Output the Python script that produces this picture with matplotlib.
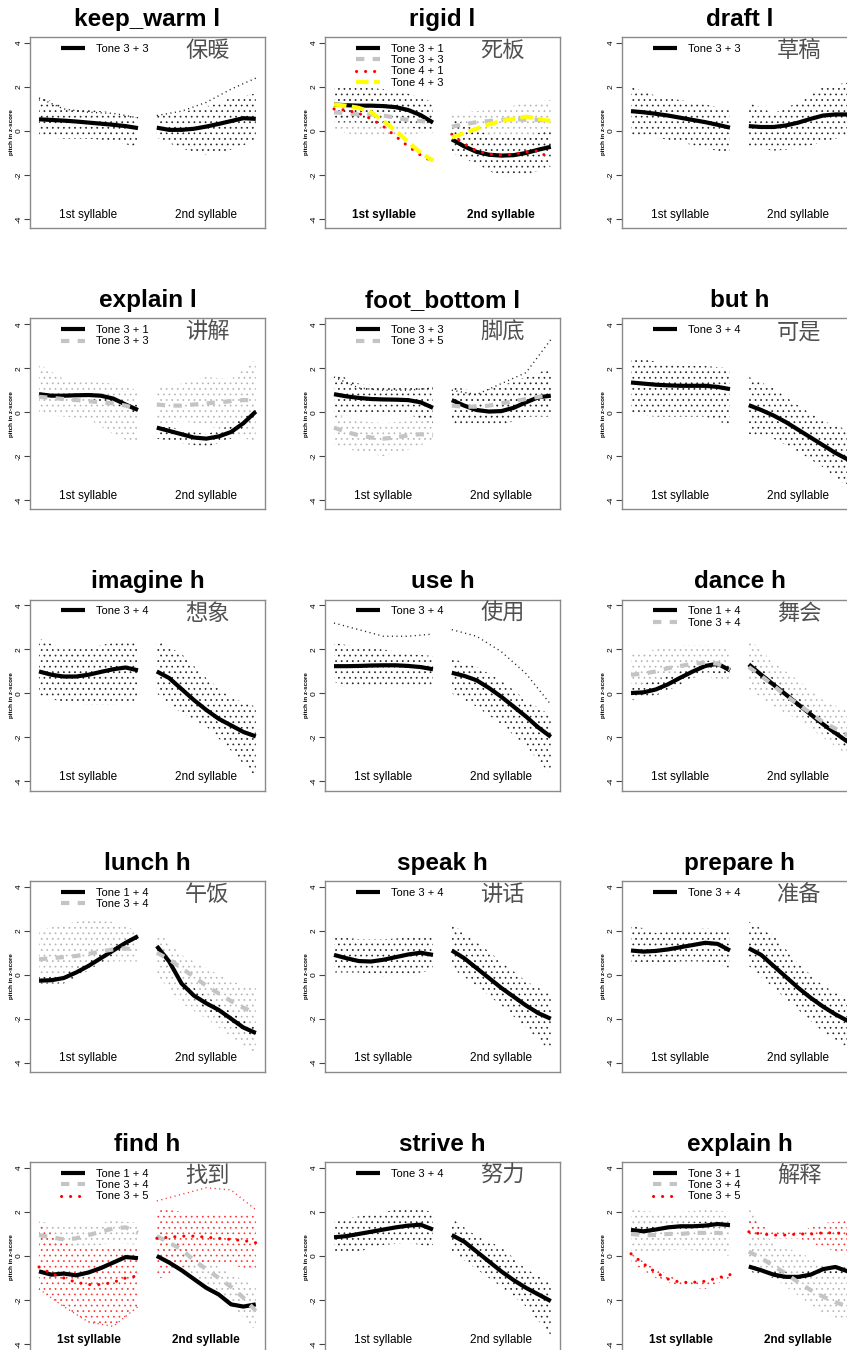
import matplotlib
matplotlib.use('Agg')
import matplotlib.pyplot as plt
import numpy as np

plt.rcParams['font.family'] = ['Liberation Sans', 'DejaVu Sans']
plt.rcParams['hatch.linewidth'] = 0.5

# time grid of each syllable: means read at 9 points, spread (hi/lo) at 5 points
T9 = np.linspace(0, 1, 9)
T5 = np.linspace(0, 1, 5)
S2 = 1.19  # start of 2nd syllable on the x axis

# ---- data (z-scores); first half = 1st syllable, second half = 2nd syllable
# keep_warm l
kw33_mean = [0.53, 0.50, 0.47, 0.43, 0.38, 0.33, 0.28, 0.22, 0.13,
             0.15, 0.05, 0.05, 0.10, 0.20, 0.32, 0.45, 0.58, 0.55]
kw33_hi = [1.6, 1.1, 0.95, 0.85, 0.6, 0.75, 0.85, 1.1, 1.5, 1.7]
kw33_lo = [-0.25, -0.35, -0.35, -0.45, -0.75, -0.3, -0.8, -1.1, -0.85, -0.45]
kw33_extra = [1.5, 1.0, 0.85, 0.8, 0.6, 0.7, 0.9, 1.3, 1.9, 2.4]

# rigid l
rg31_mean = [1.20, 1.17, 1.15, 1.15, 1.13, 1.08, 0.95, 0.72, 0.38,
             -0.38, -0.70, -0.95, -1.08, -1.12, -1.10, -1.00, -0.85, -0.72]
rg31_hi = [2.0, 2.0, 1.9, 1.7, 1.3, 0.6, 0.0, -0.3, -0.2, 0.0]
rg31_lo = [0.4, 0.4, 0.3, 0.2, -0.1, -1.0, -1.5, -2.1, -2.0, -1.6]
rg33_mean = [0.85, 0.80, 0.75, 0.75, 0.70, 0.60, 0.50, 0.45, 0.40,
             0.20, 0.30, 0.40, 0.45, 0.50, 0.55, 0.50, 0.50, 0.45]
rg33_hi = [1.6, 1.5, 1.4, 1.3, 1.0, 0.8, 0.9, 1.0, 1.3, 1.4]
rg33_lo = [0.0, -0.2, -0.3, -0.2, 0.0, -0.3, -0.4, -0.4, -0.5, -0.5]
rg41_mean = [1.00, 0.95, 0.80, 0.55, 0.20, -0.25, -0.70, -1.10, -1.40,
             -0.15, -0.60, -0.90, -1.05, -1.10, -1.05, -0.95, -0.90, -1.30]
rg43_mean = [1.20, 1.15, 1.05, 0.85, 0.45, 0.00, -0.50, -1.00, -1.35,
             -0.30, -0.10, 0.10, 0.30, 0.45, 0.55, 0.65, 0.55, 0.45]

# draft l
df33_mean = [0.90, 0.85, 0.78, 0.70, 0.60, 0.50, 0.40, 0.28, 0.15,
             0.22, 0.18, 0.18, 0.25, 0.38, 0.55, 0.70, 0.75, 0.75]
df33_hi = [2.0, 1.6, 1.4, 1.2, 1.0, 1.3, 0.8, 1.3, 2.0, 2.2]
df33_lo = [-0.2, -0.3, -0.5, -0.8, -1.0, -0.7, -0.9, -0.8, -0.5, -0.2]

# explain l
el31_mean = [0.82, 0.75, 0.75, 0.77, 0.78, 0.75, 0.62, 0.35, 0.10,
             -0.70, -0.85, -1.00, -1.15, -1.20, -1.10, -0.90, -0.50, 0.03]
el31_hi = [1.0, 0.9, 0.9, 0.7, 0.3, -0.5, -0.8, -1.0, -0.6, 0.1]
el31_lo = [0.6, 0.6, 0.6, 0.4, -0.1, -1.2, -1.4, -1.6, -1.2, -0.2]
el33_mean = [0.70, 0.65, 0.60, 0.55, 0.50, 0.45, 0.40, 0.30, 0.15,
             0.35, 0.30, 0.30, 0.35, 0.40, 0.45, 0.50, 0.55, 0.55]
el33_hi = [2.2, 1.5, 1.4, 1.3, 1.0, 1.2, 1.3, 1.6, 1.5, 2.4]
el33_lo = [-0.1, -0.2, -0.3, -1.0, -1.5, -0.6, -0.4, -0.6, -0.9, -1.4]

# foot_bottom l
fb33_mean = [0.82, 0.72, 0.65, 0.60, 0.58, 0.57, 0.55, 0.45, 0.20,
             0.55, 0.30, 0.10, 0.03, 0.05, 0.20, 0.45, 0.68, 0.75]
fb33_hi = [1.8, 1.3, 1.2, 1.1, 1.2, 1.2, 0.9, 1.2, 1.6, 2.0]
fb33_lo = [-0.2, -0.1, 0.0, -0.1, -0.5, -0.6, -0.5, -0.6, -0.2, -0.2]
fb33_extra = [1.6, 1.1, 1.0, 1.0, 1.1, 1.0, 0.8, 1.3, 1.8, 3.3]
fb35_mean = [-0.70, -0.90, -1.05, -1.15, -1.20, -1.15, -1.05, -1.00, -1.05,
             0.30, 0.25, 0.25, 0.30, 0.40, 0.50, 0.60, 0.70, 0.75]
fb35_hi = [-0.1, -0.4, -0.5, -0.4, 0.0, 0.8, 0.8, 1.0, 1.3, 1.6]
fb35_lo = [-1.5, -1.8, -2.0, -1.7, -1.3, -0.3, -0.4, -0.3, 0.0, 0.2]

# but h
bt34_mean = [1.35, 1.30, 1.25, 1.22, 1.20, 1.20, 1.20, 1.15, 1.05,
             0.32, 0.10, -0.15, -0.45, -0.80, -1.15, -1.50, -1.85, -2.15]
bt34_hi = [2.5, 2.3, 2.1, 2.1, 2.0, 1.6, 1.1, 0.3, -0.4, -0.8]
bt34_lo = [-0.1, -0.2, -0.2, -0.2, -0.6, -1.0, -1.2, -1.8, -2.5, -3.4]

# imagine h
im34_mean = [1.00, 0.85, 0.77, 0.77, 0.85, 0.98, 1.10, 1.18, 1.05,
             1.00, 0.70, 0.20, -0.30, -0.75, -1.15, -1.45, -1.75, -1.95]
im34_hi = [2.5, 2.0, 2.1, 2.3, 2.4, 2.4, 1.8, 0.7, -0.2, -0.6]
im34_lo = [-0.1, -0.4, -0.5, -0.5, -0.3, 0.0, -0.9, -1.5, -2.6, -3.8]

# use h
us34_mean = [1.24, 1.24, 1.25, 1.27, 1.28, 1.28, 1.25, 1.20, 1.10,
             0.94, 0.80, 0.60, 0.25, -0.15, -0.60, -1.05, -1.55, -1.97]
us34_hi = [2.3, 2.1, 2.0, 1.8, 1.7, 1.6, 1.2, 0.6, -0.3, -1.0]
us34_lo = [0.5, 0.3, 0.3, 0.3, 0.4, 0.0, -0.6, -1.4, -2.4, -3.7]
us34_extra = [3.2, 2.9, 2.6, 2.6, 2.7, 2.9, 2.6, 1.9, 0.9, -0.5]

# dance h
dn14_mean = [0.02, 0.05, 0.18, 0.42, 0.72, 1.00, 1.25, 1.35, 1.05,
             1.32, 0.85, 0.40, -0.05, -0.50, -0.95, -1.40, -1.80, -2.20]
dn14_hi = [0.3, 0.6, 1.0, 1.5, 1.3, 1.6, 0.7, -0.2, -1.1, -1.9]
dn14_lo = [-0.3, -0.1, 0.4, 1.0, 0.8, 1.0, 0.1, -0.8, -1.7, -2.5]
dn34_mean = [0.85, 0.90, 1.00, 1.15, 1.25, 1.35, 1.40, 1.35, 1.10,
             1.20, 0.80, 0.35, -0.10, -0.50, -0.90, -1.30, -1.60, -1.90]
dn34_hi = [1.8, 2.0, 2.2, 2.2, 2.0, 2.5, 1.4, 0.6, -0.3, -0.8]
dn34_lo = [0.3, 0.4, 0.6, 0.8, 0.5, 0.2, -0.6, -1.2, -2.0, -2.8]

# lunch h
ln14_mean = [-0.27, -0.25, -0.15, 0.10, 0.40, 0.75, 1.10, 1.45, 1.75,
             1.30, 0.60, -0.40, -0.95, -1.30, -1.60, -2.00, -2.40, -2.65]
ln14_hi = [-0.1, 0.0, 0.6, 1.3, 1.9, 1.5, -0.2, -1.0, -1.7, -2.4]
ln14_lo = [-0.4, -0.4, 0.2, 0.9, 1.6, 1.1, -0.6, -1.6, -2.3, -2.9]
ln34_mean = [0.70, 0.75, 0.80, 0.85, 0.95, 1.05, 1.15, 1.20, 1.10,
             1.00, 0.70, 0.30, -0.10, -0.50, -0.85, -1.20, -1.50, -1.75]
ln34_hi = [2.0, 2.3, 2.5, 2.4, 2.0, 2.0, 0.9, 0.3, -0.3, -0.6]
ln34_lo = [-0.1, 0.0, 0.3, 0.6, 0.6, 0.0, -1.3, -2.0, -2.8, -3.6]

# speak h
sp34_mean = [0.90, 0.75, 0.62, 0.60, 0.68, 0.80, 0.92, 1.00, 0.90,
             1.10, 0.75, 0.30, -0.15, -0.60, -1.00, -1.40, -1.75, -2.00]
sp34_hi = [1.8, 1.6, 1.6, 1.7, 1.7, 2.3, 1.5, 0.6, -0.3, -0.9]
sp34_lo = [0.1, 0.1, -0.1, 0.0, 0.2, 0.3, -0.5, -1.4, -2.4, -3.5]

# prepare h
pr34_mean = [1.10, 1.05, 1.08, 1.15, 1.25, 1.35, 1.45, 1.40, 1.10,
             1.20, 0.90, 0.40, -0.10, -0.60, -1.05, -1.45, -1.80, -2.10]
pr34_hi = [2.3, 1.9, 2.0, 2.1, 2.0, 2.4, 1.8, 0.5, -0.5, -1.1]
pr34_lo = [0.4, 0.5, 0.6, 0.6, 0.3, 0.4, -0.6, -1.6, -2.6, -3.3]

# find h
fd14_mean = [-0.70, -0.85, -0.80, -0.88, -0.75, -0.55, -0.30, -0.05, -0.10,
             0.00, -0.30, -0.65, -1.05, -1.45, -1.75, -2.20, -2.30, -2.20]
fd34_mean = [0.95, 0.85, 0.75, 0.80, 0.95, 1.10, 1.25, 1.30, 1.05,
             0.90, 0.60, 0.30, -0.20, -0.60, -1.00, -1.40, -1.90, -2.50]
fd34_hi = [1.6, 1.3, 1.4, 1.6, 1.5, 1.3, 0.5, -0.2, -0.8, -1.4]
fd34_lo = [0.3, 0.3, 0.4, 0.6, 0.5, 0.3, -0.6, -1.3, -2.2, -3.4]
fd35_mean = [-0.50, -0.80, -1.00, -1.20, -1.30, -1.30, -1.20, -1.00, -0.90,
             0.80, 0.85, 0.90, 0.90, 0.85, 0.80, 0.75, 0.70, 0.60]
fd35_hi = [1.5, 0.6, 0.3, 0.4, 0.4, 2.2, 2.0, 2.0, 2.0, 1.8]
fd35_lo = [-1.5, -2.3, -3.0, -3.2, -2.3, -1.1, -0.5, -0.4, -0.4, -0.7]
fd35_extra = [-1.5, -2.3, -3.0, -3.2, -2.3, 2.5, 2.8, 3.1, 3.0, 2.1]

# strive h
st34_mean = [0.85, 0.90, 1.00, 1.10, 1.20, 1.30, 1.38, 1.42, 1.20,
             0.95, 0.65, 0.20, -0.25, -0.70, -1.10, -1.45, -1.75, -2.05]
st34_hi = [1.6, 1.8, 2.0, 2.2, 2.0, 1.7, 0.9, 0.4, -0.6, -1.2]
st34_lo = [0.1, 0.2, 0.5, 0.6, 0.4, 0.2, -0.6, -1.4, -2.3, -3.6]

# explain h
eh31_mean = [1.18, 1.12, 1.20, 1.30, 1.35, 1.35, 1.38, 1.45, 1.40,
             -0.48, -0.65, -0.85, -0.95, -0.95, -0.85, -0.60, -0.50, -0.70]
eh31_hi = [1.5, 1.45, 1.5, 1.55, 1.5, -0.4, -0.7, -0.8, -0.5, -0.5]
eh31_lo = [1.0, 1.1, 1.2, 1.3, 1.3, -0.7, -1.0, -1.1, -0.8, -0.9]
eh34_mean = [1.00, 0.95, 0.95, 1.00, 1.00, 1.05, 1.05, 1.05, 1.00,
             0.20, -0.10, -0.45, -0.80, -1.20, -1.55, -1.85, -2.10, -2.30]
eh34_hi = [2.1, 2.0, 2.0, 2.1, 2.0, 2.2, 0.5, 0.2, -0.4, -0.6]
eh34_lo = [0.0, 0.2, 0.3, 0.2, 0.0, -0.2, -1.0, -1.8, -2.6, -3.0]
eh35_mean = [0.10, -0.35, -0.75, -1.05, -1.20, -1.20, -1.15, -1.00, -0.85,
             1.10, 1.00, 0.95, 0.95, 1.00, 1.00, 1.05, 1.05, 1.00]
eh35_hi = [0.1, -0.6, -1.1, -1.2, -0.8, 1.8, 1.1, 1.1, 1.5, 1.6]
eh35_lo = [-0.3, -1.0, -1.4, -1.5, -1.0, 0.9, 0.8, 0.8, 0.4, 0.0]

# ---- styles per group colour
STY = {
    'black':  dict(line='black', ls='-', lw=3.0, dots='#222222'),
    'grey':   dict(line='#c4c4c4', ls=(0, (2, 2)), lw=3.0, dots='#b4b4b4'),
    'red':    dict(line='red', ls=(0, (0.05, 2.9)), lw=2.2, dots='#ff3030'),
    'yellow': dict(line='#ffff00', ls=(0, (3, 1.3)), lw=3.0, dots='#ffff00'),
}

# (title, characters, bold syllable labels, groups)
# group = (legend label, style, mean, hi, lo, extra trace)
panels = [
    ('keep_warm l', '保暖', False, [('Tone 3 + 3', 'black', kw33_mean, kw33_hi, kw33_lo, kw33_extra)]),
    ('rigid l', '死板', True, [('Tone 3 + 1', 'black', rg31_mean, rg31_hi, rg31_lo, None),
                             ('Tone 3 + 3', 'grey', rg33_mean, rg33_hi, rg33_lo, None),
                             ('Tone 4 + 1', 'red', rg41_mean, None, None, None),
                             ('Tone 4 + 3', 'yellow', rg43_mean, None, None, None)]),
    ('draft l', '草稿', False, [('Tone 3 + 3', 'black', df33_mean, df33_hi, df33_lo, None)]),
    ('explain l', '讲解', False, [('Tone 3 + 1', 'black', el31_mean, el31_hi, el31_lo, None),
                               ('Tone 3 + 3', 'grey', el33_mean, el33_hi, el33_lo, None)]),
    ('foot_bottom l', '脚底', False, [('Tone 3 + 3', 'black', fb33_mean, fb33_hi, fb33_lo, fb33_extra),
                                   ('Tone 3 + 5', 'grey', fb35_mean, fb35_hi, fb35_lo, None)]),
    ('but h', '可是', False, [('Tone 3 + 4', 'black', bt34_mean, bt34_hi, bt34_lo, None)]),
    ('imagine h', '想象', False, [('Tone 3 + 4', 'black', im34_mean, im34_hi, im34_lo, None)]),
    ('use h', '使用', False, [('Tone 3 + 4', 'black', us34_mean, us34_hi, us34_lo, us34_extra)]),
    ('dance h', '舞会', False, [('Tone 1 + 4', 'black', dn14_mean, dn14_hi, dn14_lo, None),
                             ('Tone 3 + 4', 'grey', dn34_mean, dn34_hi, dn34_lo, None)]),
    ('lunch h', '午饭', False, [('Tone 1 + 4', 'black', ln14_mean, ln14_hi, ln14_lo, None),
                             ('Tone 3 + 4', 'grey', ln34_mean, ln34_hi, ln34_lo, None)]),
    ('speak h', '讲话', False, [('Tone 3 + 4', 'black', sp34_mean, sp34_hi, sp34_lo, None)]),
    ('prepare h', '准备', False, [('Tone 3 + 4', 'black', pr34_mean, pr34_hi, pr34_lo, None)]),
    ('find h', '找到', True, [('Tone 1 + 4', 'black', fd14_mean, None, None, None),
                            ('Tone 3 + 4', 'grey', fd34_mean, fd34_hi, fd34_lo, None),
                            ('Tone 3 + 5', 'red', fd35_mean, fd35_hi, fd35_lo, fd35_extra)]),
    ('strive h', '努力', False, [('Tone 3 + 4', 'black', st34_mean, st34_hi, st34_lo, None)]),
    ('explain h', '解释', True, [('Tone 3 + 1', 'black', eh31_mean, eh31_hi, eh31_lo, None),
                               ('Tone 3 + 4', 'grey', eh34_mean, eh34_hi, eh34_lo, None),
                               ('Tone 3 + 5', 'red', eh35_mean, eh35_hi, eh35_lo, None)]),
]

W, H = 847, 1350
fig = plt.figure(figsize=(W / 100, H / 100), dpi=100)
col_left = [30, 325, 622]
box_w, box_h = 235, 191


def draw_panel(ax, title, chars, bold, groups):
    # dotted clouds of single tokens, drawn as dot hatching between the spread limits
    for order in ('grey', 'black', 'red', 'yellow'):
        for lab, sty, mean, hi, lo, extra in groups:
            if sty != order:
                continue
            s = STY[sty]
            if hi is not None:
                for k, x0 in enumerate([0, S2]):
                    ax.fill_between(T5 + x0, lo[k * 5:(k + 1) * 5], hi[k * 5:(k + 1) * 5],
                                    facecolor='none', edgecolor=s['dots'], hatch='...',
                                    linewidth=0)
            if extra is not None:
                for k, x0 in enumerate([0, S2]):
                    ax.plot(T5 + x0, extra[k * 5:(k + 1) * 5], ls=(0, (0.8, 2.5)),
                            color=s['dots'], lw=1.0)
    # mean contours
    handles = []
    for lab, sty, mean, hi, lo, extra in groups:
        s = STY[sty]
        h, = ax.plot(T9, mean[:9], color=s['line'], ls=s['ls'], lw=s['lw'], label=lab,
                     solid_capstyle='butt',
                     dash_capstyle='round' if sty == 'red' else 'butt')
        ax.plot(T9 + S2, mean[9:], color=s['line'], ls=s['ls'], lw=s['lw'],
                solid_capstyle='butt',
                dash_capstyle='round' if sty == 'red' else 'butt')
        handles.append(h)

    ax.set_xlim(-0.091, 2.283)
    ax.set_ylim(-4.41, 4.27)
    ax.set_xticks([])
    ax.set_yticks([-4, -2, 0, 2, 4])
    ax.set_yticklabels(['-4', '-2', '0', '2', '4'])
    ax.tick_params(axis='y', length=4, width=0.8, pad=1.5, labelsize=6,
                   labelrotation=90, color='#444444')
    for t in ax.get_yticklabels():
        t.set_va('center')
    ax.set_ylabel('pitch in z-score', fontsize=4.5, labelpad=1, fontweight='bold')
    for sp in ax.spines.values():
        sp.set_color('#8a8a8a')
        sp.set_linewidth(1.0)

    ax.set_title(title, fontsize=17.5, fontweight='bold', pad=8)
    ax.text(1.70, 3.65, chars, fontsize=16, color='#505050', ha='center', va='center',
            family=['Noto Sans CJK SC', 'DejaVu Sans'])
    fw = 'bold' if bold else 'normal'
    ax.text(0.5, -3.8, '1st syllable', fontsize=8.5, ha='center', va='center', fontweight=fw)
    ax.text(S2 + 0.5, -3.8, '2nd syllable', fontsize=8.5, ha='center', va='center', fontweight=fw)

    ax.legend(handles=handles, loc='upper left', bbox_to_anchor=(0.10, 1.005),
              frameon=False, fontsize=8, handlelength=2.1, handletextpad=1.0,
              labelspacing=0.12, borderpad=0.2)


for i, (title, chars, bold, groups) in enumerate(panels):
    r, c = divmod(i, 3)
    top = 37 + 281.25 * r
    ax = fig.add_axes([col_left[c] / W, 1 - (top + box_h) / H, box_w / W, box_h / H])
    draw_panel(ax, title, chars, bold, groups)

fig.savefig('out.png', dpi=100)
